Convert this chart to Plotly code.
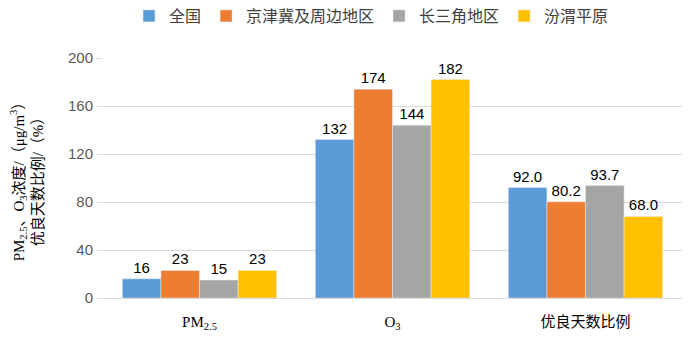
import plotly.graph_objects as go

categories = ["PM<sub>2.5</sub>", "O<sub>3</sub>", "优良天数比例"]
series_names = ["全国", "京津冀及周边地区", "长三角地区", "汾渭平原"]
values_national = [16, 132, 92.0]
values_jjj = [23, 174, 80.2]
values_csj = [15, 144, 93.7]
values_fw = [23, 182, 68.0]
label_national = ["16", "132", "92.0"]
label_jjj = ["23", "174", "80.2"]
label_csj = ["15", "144", "93.7"]
label_fw = ["23", "182", "68.0"]
y_ticks = [0, 40, 80, 120, 160, 200]

colors = ["#5B9BD5", "#ED7D31", "#A5A5A5", "#FFC000"]
all_vals = [values_national, values_jjj, values_csj, values_fw]
all_labels = [label_national, label_jjj, label_csj, label_fw]

fig = go.Figure()
for name, vals, labs, c in zip(series_names, all_vals, all_labels, colors):
    fig.add_trace(go.Bar(
        x=categories, y=vals, name=name, marker_color=c,
        text=labs, textposition="outside", cliponaxis=False,
        textfont=dict(size=15, color="#000000", family="Liberation Sans, Noto Sans CJK SC"),
    ))

fig.update_layout(
    width=692, height=338,
    margin=dict(l=103, r=10, t=58, b=40, autoexpand=False),
    plot_bgcolor="white", paper_bgcolor="white",
    barmode="group", bargap=0.2, bargroupgap=0,
    font=dict(family="Liberation Sans, Noto Sans CJK SC", size=13, color="#404040"),
    legend=dict(orientation="h", x=0.045, xanchor="left", y=1.175, yanchor="middle",
                font=dict(size=16, color="#404040", family="Liberation Sans, Noto Sans CJK SC"),
                itemwidth=30, traceorder="normal", tracegroupgap=0),
    showlegend=True,
)
fig.update_yaxes(
    range=[0, 200], tickvals=y_ticks, showgrid=True, gridcolor="#D9D9D9",
    zeroline=False, showline=False, ticks="outside", ticklen=6, tickcolor="#D9D9D9",
    tickfont=dict(size=15, color="#595959"), automargin=False,
    title=dict(text="PM<sub>2.5</sub>、O<sub>3</sub>浓度/（μg/m<sup>3</sup>）<br>优良天数比例/（%）",
               font=dict(size=15, color="#000000", family="Liberation Serif, Noto Sans CJK SC"),
               standoff=20),
)
fig.update_xaxes(
    showline=True, linecolor="#D9D9D9", linewidth=1, automargin=False,
    tickfont=dict(size=15, color="#000000", family="Liberation Serif, Noto Sans CJK SC"),
    ticks="", ticklabelstandoff=10,
)
fig.write_html("out.html")
